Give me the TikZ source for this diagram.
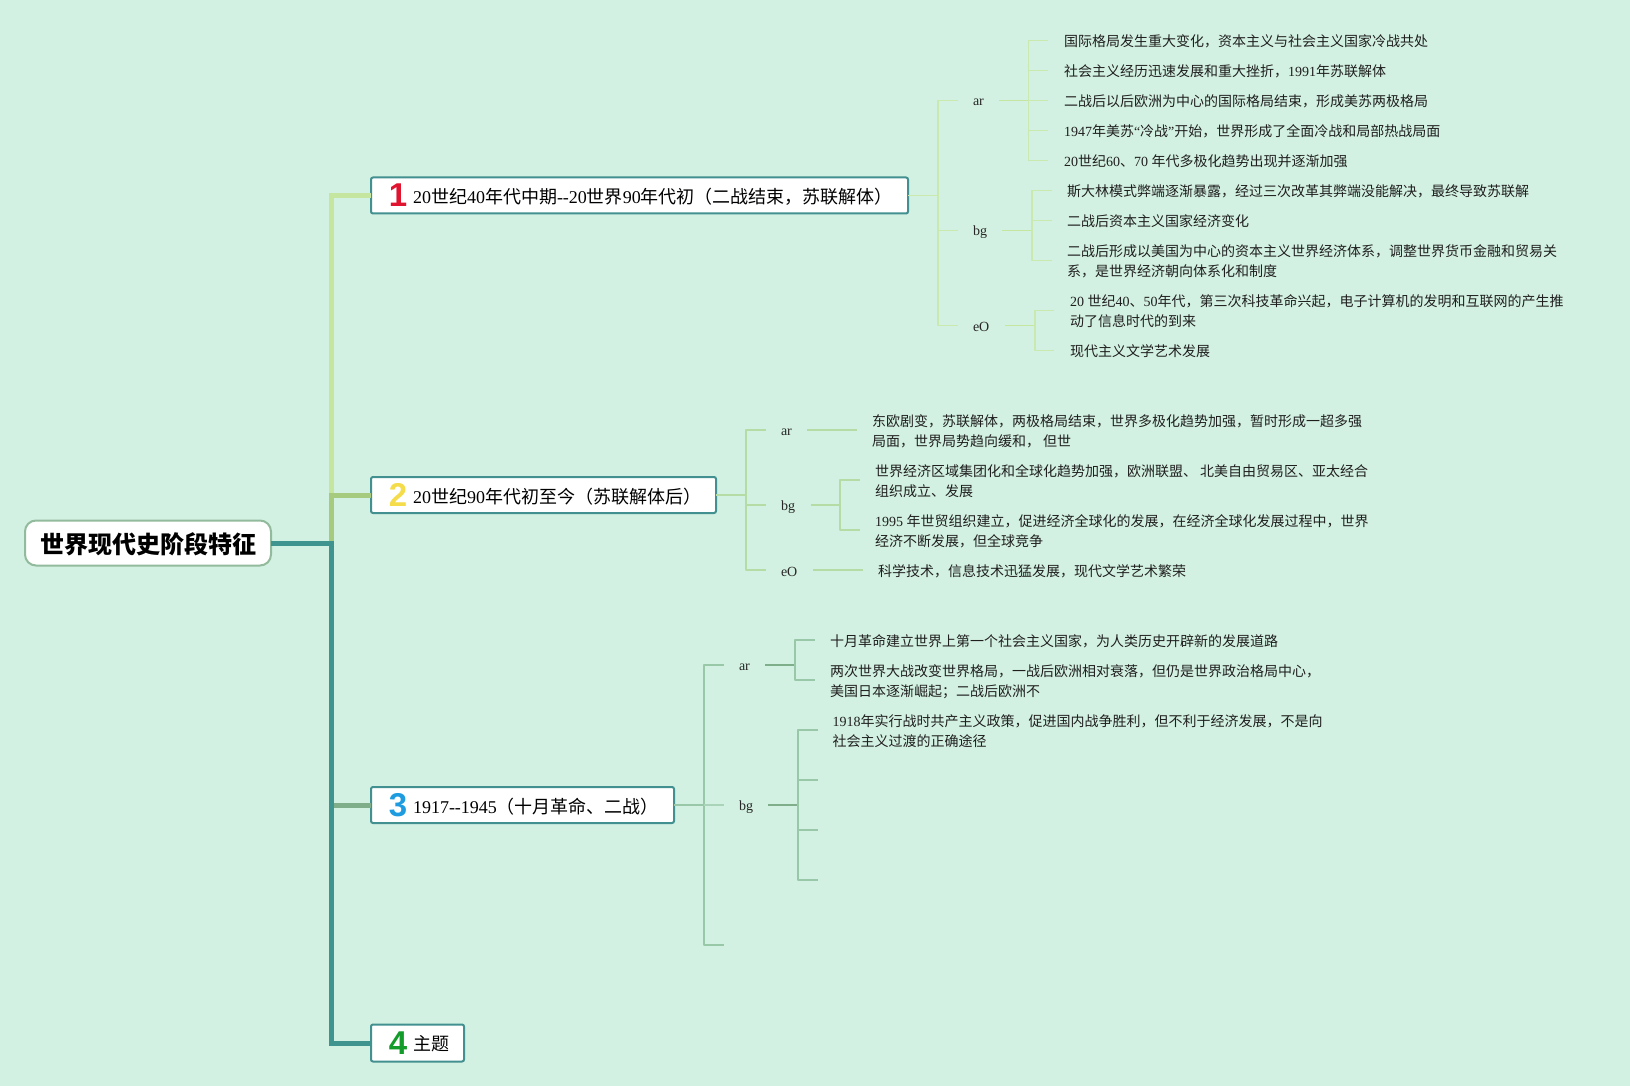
\documentclass[tikz,border=0pt]{standalone}
\usepackage{fontspec}
\setmainfont{Noto Sans CJK SC}
\newfontfamily\latf{Liberation Serif}
\newfontfamily\badgef{Liberation Sans}[BoldFont={Liberation Sans Bold}]
\newcommand\ls[1]{{\latf #1}}
\definecolor{bgc}{HTML}{D3F1E2}
\definecolor{teal}{HTML}{3F9490}
\definecolor{bo}{HTML}{42908F}
\definecolor{bra}{HTML}{C5E69F}
\definecolor{brb}{HTML}{A6CB7F}
\definecolor{brc}{HTML}{7FAE8A}
\definecolor{la}{HTML}{C9E9AE}
\definecolor{lb}{HTML}{B5DCA5}
\definecolor{lc}{HTML}{98C8A8}
\tikzset{
  every node/.style={inner sep=0pt,outer sep=0pt},
  leaf/.style={anchor=west,align=left,font=\fontsize{14}{20}\selectfont,text=black!88},
  tag/.style={anchor=west,font=\fontsize{14}{20}\selectfont\latf,text=black!85},
  title/.style={anchor=west,font=\fontsize{18}{22}\selectfont,text=black},
  topicbox/.style={draw=bo,line width=2pt,fill=white,rounded corners=2pt,anchor=west,minimum height=36pt},
  badge/.style={font=\fontsize{33}{33}\selectfont\badgef\bfseries},
  trunkline/.style={line width=5pt,line join=miter},
  cone/.style={line width=1.4pt,draw=la,line join=round},
  ctwo/.style={line width=1.4pt,draw=lb,line join=round},
  cthree/.style={line width=1.4pt,draw=lc,line join=round}
}
\begin{document}
\begin{tikzpicture}[x=1pt,y=-1pt]
\useasboundingbox (0,0) rectangle (1630,1086);
\fill[bgc] (0,0) rectangle (1630,1086);

% main nodes
\node[draw=brc!85!white,line width=2pt,fill=white,rounded corners=11pt,minimum width=246pt,minimum height=45pt] (root) at (148,543) {};
\node[font=\fontsize{24}{28}\selectfont\bfseries] (roottext) at (148,544) {世界现代史阶段特征};
\node[topicbox,minimum width=537pt] (n1) at (371,195.5) {};
\node[topicbox,minimum width=345pt] (n2) at (371,495) {};
\node[topicbox,minimum width=303pt] (n3) at (371,805) {};
\node[topicbox,minimum width=93pt,minimum height=37pt] (n4) at (371,1043) {};

\node[badge,text=bgc] (b1) at (398,195) {\textcolor[HTML]{E0142F}{1}};
\node[badge] (b2) at (398,495) {\textcolor[HTML]{F5DC4A}{2}};
\node[badge] (b3) at (398,805) {\textcolor[HTML]{1E9CDF}{3}};
\node[badge] (b4) at (398,1043) {\textcolor[HTML]{149C2A}{4}};

\node[title] (t1) at (413,197) {\ls{20}世纪\ls{40}年代中期\ls{-{}-}\ls{20}世界\ls{90}年代初（二战结束，苏联解体）};
\node[title] (t2) at (413,497) {\ls{20}世纪\ls{90}年代初至今（苏联解体后）};
\node[title] (t3) at (413,807) {\ls{1917-{}-1945}（十月革命、二战）};
\node[title] (t4) at (413,1044) {主题};

% trunk
\coordinate (trk) at (331,543);
\coordinate (tr1) at (331,195.5);
\coordinate (tr2) at (331,495);
\coordinate (tr3) at (331,805);
\coordinate (tr4) at (331,1043);
\draw[trunkline,bra] (n1.west) -- (tr1) -- (tr2);
\draw[trunkline,brb] (n2.west) -- (tr2) -- (trk);
\draw[trunkline,teal] (root.east) -- (trk) -- (tr4) -- (n4.west);
\draw[trunkline,brc] (n3.west) -- (333.5,805);

% group 1
\node[tag] (a1) at (973,102) {ar};
\node[tag] (a2) at (973,232) {bg};
\node[tag] (a3) at (973,327) {eO};
\node[leaf] (a11) at (1064,41) {国际格局发生重大变化，资本主义与社会主义国家冷战共处};
\node[leaf] (a12) at (1064,71) {社会主义经历迅速发展和重大挫折，\ls{1991}年苏联解体};
\node[leaf] (a13) at (1064,101) {二战后以后欧洲为中心的国际格局结束，形成美苏两极格局};
\node[leaf] (a14) at (1064,131) {\ls{1947}年美苏\ls{“}冷战\ls{”}开始，世界形成了全面冷战和局部热战局面};
\node[leaf] (a15) at (1064,161) {\ls{20}世纪\ls{60}、\ls{70 }年代多极化趋势出现并逐渐加强};
\node[leaf] (a21) at (1067,191) {斯大林模式弊端逐渐暴露，经过三次改革其弊端没能解决，最终导致苏联解};
\node[leaf] (a22) at (1067,221) {二战后资本主义国家经济变化};
\node[leaf] (a23) at (1067,261) {二战后形成以美国为中心的资本主义世界经济体系，调整世界货币金融和贸易关\\系，是世界经济朝向体系化和制度};
\node[leaf] (a31) at (1070,311) {\ls{20 }世纪\ls{40}、\ls{50}年代，第三次科技革命兴起，电子计算机的发明和互联网的产生推\\动了信息时代的到来};
\node[leaf] (a32) at (1070,351) {现代主义文学艺术发展};

\coordinate (j1) at (938,195.5);
\draw[cone] (n1.east) -- (j1);
\draw[cone] (958,100.5) coordinate (s1) -| (j1) |- (958,325.5) coordinate (s3);
\draw[cone] (j1 |- 0,230.5) -- (958,230.5) coordinate (s2);
\coordinate (ja1) at (1028.6,100.5);
\coordinate (ja2) at (1032,230.5);
\coordinate (ja3) at (1035,325.5);
\draw[cone,draw=bra,line width=1.7pt] (999,100.5) coordinate (ra1) -- (ja1);
\draw[cone,draw=bra,line width=1.7pt] (1002,230.5) coordinate (ra2) -- (ja2);
\draw[cone,draw=bra,line width=1.7pt] (1005,325.5) coordinate (ra3) -- (ja3);
\draw[cone] (1048,40.5) coordinate (e11) -| (ja1) |- (1048,160.5) coordinate (e15);
\draw[cone] (ja1 |- 0,70.5) -- (1048,70.5) coordinate (e12);
\draw[cone] (ja1) -- (1048,100.5) coordinate (e13);
\draw[cone] (ja1 |- 0,130.5) -- (1048,130.5) coordinate (e14);
\draw[cone] (1052,190.5) coordinate (e21) -| (ja2) |- (1052,260.5) coordinate (e23);
\draw[cone] (ja2 |- 0,220.5) -- (1052,220.5) coordinate (e22);
\draw[cone] (1054,310.5) coordinate (e31) -| (ja3) |- (1054,350.5) coordinate (e32);

% group 2
\node[tag] (b1t) at (781,432.5) {ar};
\node[tag] (b2t) at (781,507) {bg};
\node[tag] (b3t) at (781,572) {eO};
\node[leaf] (b11) at (872,431.5) {东欧剧变，苏联解体，两极格局结束，世界多极化趋势加强，暂时形成一超多强\\局面，世界局势趋向缓和，\ 但世};
\node[leaf] (b21) at (875,481) {世界经济区域集团化和全球化趋势加强，欧洲联盟、 北美自由贸易区、亚太经合\\组织成立、发展};
\node[leaf] (b22) at (875,531) {\ls{1995 }年世贸组织建立，促进经济全球化的发展，在经济全球化发展过程中，世界\\经济不断发展，但全球竞争};
\node[leaf] (b31) at (878,571) {科学技术，信息技术迅猛发展，现代文学艺术繁荣};

\coordinate (j2) at (746,495);
\draw[ctwo] (n2.east) -- (j2);
\draw[ctwo] (766,430) coordinate (u1) -| (j2) |- (766,570) coordinate (u3);
\draw[ctwo] (j2 |- 0,505) -- (766,505) coordinate (u2);
\draw[ctwo] (807,430) coordinate (ub1) -- (856.5,430) coordinate (ub1e);
\draw[ctwo] (813,570) coordinate (ub3) -- (862.5,570) coordinate (ub3e);
\coordinate (jb2) at (840,505);
\draw[ctwo] (810.6,505) coordinate (ub2) -- (jb2);
\draw[ctwo] (860,480) coordinate (eb1) -| (jb2) |- (860,530) coordinate (eb2);

% group 3
\node[tag] (c1t) at (739,667.5) {ar};
\node[tag] (c2t) at (739,807) {bg};
\node[leaf] (c11) at (830,641.5) {十月革命建立世界上第一个社会主义国家，为人类历史开辟新的发展道路};
\node[leaf] (c12) at (830,682) {两次世界大战改变世界格局，一战后欧洲相对衰落，但仍是世界政治格局中心，\\美国日本逐渐崛起；二战后欧洲不};
\node[leaf] (c21) at (832.5,731.5) {\ls{1918}年实行战时共产主义政策，促进国内战争胜利，但不利于经济发展，不是向\\社会主义过渡的正确途径};

\coordinate (j3) at (704,805);
\draw[cthree] (724,665) coordinate (w1) -| (j3) |- (724,945) coordinate (w3);
\draw[cthree] (n3.east) -- (j3);
\draw[cthree,draw=lc!70!bgc] (j3) -- (724,805) coordinate (w2);
\coordinate (jc1) at (795,665);
\coordinate (jc2) at (798,805);
\draw[cthree,draw=brc] (765,665) coordinate (wa) -- (jc1);
\draw[cthree,draw=brc] (768,805) coordinate (wb) -- (jc2);
\draw[cthree] (815,640) coordinate (ec1) -| (jc1) |- (815,680) coordinate (ec2);
\draw[cthree] (818,730) coordinate (ed1) -| (jc2) |- (818,880) coordinate (ed4);
\draw[cthree] (jc2 |- 0,780) -- (818,780) coordinate (ed2);
\draw[cthree] (jc2 |- 0,830) -- (818,830) coordinate (ed3);
\end{tikzpicture}
\end{document}
